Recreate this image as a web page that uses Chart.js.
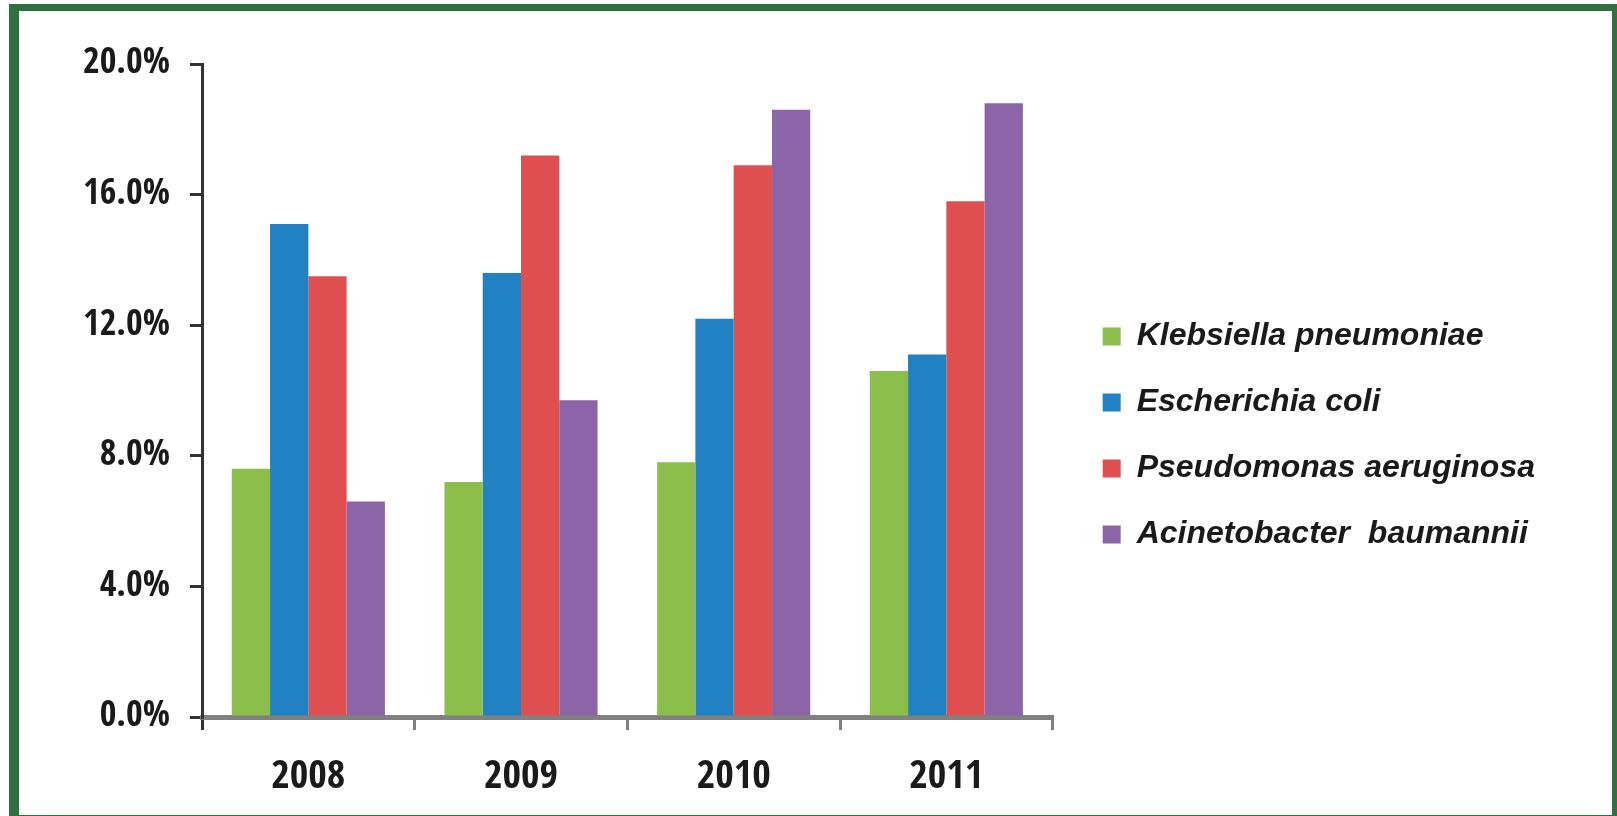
<!DOCTYPE html>
<html>
<head>
<meta charset="utf-8">
<script src="https://cdn.jsdelivr.net/npm/chart.js@4"></script>
<style>
  html, body { margin: 0; padding: 0; background: #fff; }
  body { width: 1617px; height: 816px; position: relative; overflow: hidden; }
  #frame {
    position: absolute; left: 9px; top: 4px;
    width: 1608px; height: 812px; box-sizing: border-box;
    border-style: solid; border-color: #2e7040;
    border-width: 7px 5px 1px 10px;
    background: #fff;
  }
  #chart { display: block; }
</style>
</head>
<body>
<div id="frame"><canvas id="chart" width="1593" height="804"></canvas></div>
<script>
const years = ["2008", "2009", "2010", "2011"];

const klebsiella    = [7.6, 7.2, 7.8, 10.6];
const ecoli         = [15.1, 13.6, 12.2, 11.1];
const pseudomonas   = [13.5, 17.2, 16.9, 15.8];
const acinetobacter = [6.6, 9.7, 18.6, 18.8];

const seriesNames = [
    "Klebsiella pneumoniae",
    "Escherichia coli",
    "Pseudomonas aeruginosa",
    "Acinetobacter  baumannii"
];
const seriesColors = ["#8cbe4c", "#2281c2", "#df4f4f", "#8b65a8"];

const yTicks = [0, 4, 8, 12, 16, 20];

const narrow = "'Open Sans Condensed', 'Roboto Condensed', 'Liberation Sans', Arial, sans-serif";

// ================= DATASETS =================
const datasets = [klebsiella, ecoli, pseudomonas, acinetobacter].map((vals, i) => ({
    label: seriesNames[i],
    data: vals,
    backgroundColor: seriesColors[i],
    borderWidth: 0,
    categoryPercentage: 0.72,
    barPercentage: 1.0
}));

// ================= CHART =================
const ctx = document.getElementById("chart").getContext("2d");

new Chart(ctx, {
    type: "bar",
    data: { labels: years, datasets },
    options: {
        responsive: false,
        devicePixelRatio: 1,
        animation: false,
        layout: { padding: { left: 20, top: 53, right: 67, bottom: 8 } },
        plugins: {
            tooltip: { enabled: false },
            legend: {
                position: "right",
                maxWidth: 700,
                labels: {
                    boxWidth: 18,
                    boxHeight: 18,
                    padding: 34,
                    color: "#1a1a1a",
                    font: { family: "'Liberation Sans', Arial, sans-serif", size: 32, weight: "bold", style: "italic" }
                }
            }
        },
        scales: {
            x: {
                z: 1,
                afterFit: s => { s.height = 90; },
                grid: {
                    drawOnChartArea: false,
                    drawTicks: true,
                    tickLength: 13,
                    lineWidth: 3,
                    color: c => (c.index === 0 || c.index === years.length) ? "#333" : "#808080"
                },
                border: { display: true, color: "#808080", width: 5 },
                ticks: {
                    padding: 24,
                    color: "#1a1a1a",
                    font: { family: narrow, size: 40, weight: "bold" }
                }
            },
            y: {
                min: 0,
                max: 20,
                afterBuildTicks: s => { s.ticks = yTicks.map(v => ({ value: v })); },
                afterFit: s => { s.width = 163; },
                grid: {
                    drawOnChartArea: false,
                    drawTicks: true,
                    tickLength: 12,
                    lineWidth: 3,
                    color: "#333"
                },
                border: { display: true, color: "#333", width: 3 },
                ticks: {
                    padding: 20,
                    color: "#1a1a1a",
                    font: { family: narrow, size: 36, weight: "bold" },
                    callback: v => v.toFixed(1) + "%"
                }
            },
            // empty axis that keeps the legend clear of the plot
            gap: {
                type: "linear",
                position: "right",
                display: true,
                grid: { display: false },
                border: { display: false },
                ticks: { display: false },
                afterFit: s => { s.width = 16; }
            }
        }
    }
});
</script>
</body>
</html>
